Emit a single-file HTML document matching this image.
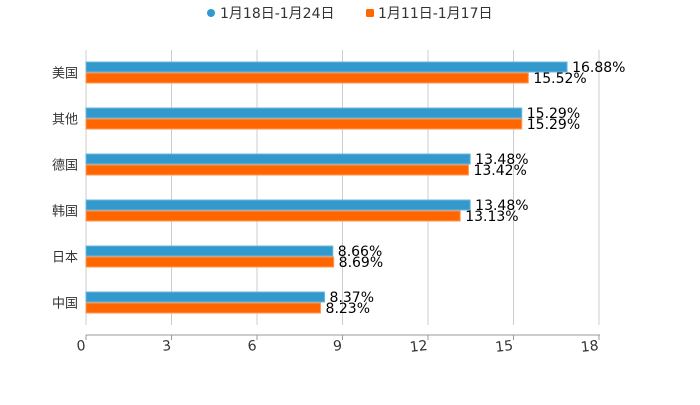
<!DOCTYPE html>
<html><head><meta charset="utf-8"><style>
body{margin:0;background:#fff;width:700px;height:400px;overflow:hidden}
svg text{font-family:"DejaVu Sans","Noto Sans CJK SC",sans-serif}
</style></head><body>
<svg id="chart" width="700" height="400">
<g>
<g><circle cx="211" cy="13" r="4" fill="#3399cc"/><text x="220" y="18" font-size="14" fill="#333">1月18日-1月24日</text></g>
<g><rect x="366" y="9" width="8" height="8" rx="1.5" fill="#ff6600"/><text x="378" y="18" font-size="14" fill="#333">1月11日-1月17日</text></g>
</g>
<g id="grid"></g><g id="bars"></g><g id="axis"></g>
</svg>
<script>
const categories=["美国","其他","德国","韩国","日本","中国"];
const seriesA=[16.88,15.29,13.48,13.48,8.66,8.37];
const seriesB=[15.52,15.29,13.42,13.13,8.69,8.23];
const ticks=[0,3,6,9,12,15,18];
const NS="http://www.w3.org/2000/svg";
const x0=86,x1=599,yTop=49.5,band=46;
const xs=v=>x0+(v/18)*(x1-x0);
const yc=i=>yTop+band*i+band/2;
function mk(t,a,p){const e=document.createElementNS(NS,t);for(const k in a)e.setAttribute(k,a[k]);p.appendChild(e);return e;}
const grid=document.getElementById('grid'),bars=document.getElementById('bars'),axis=document.getElementById('axis');
ticks.forEach(t=>{
 const g=mk('line',{x1:xs(t),x2:xs(t),y1:50,y2:325,stroke:'#ccc','stroke-width':1},grid);
 
 
 mk('line',{x1:xs(t),x2:xs(t),y1:335,y2:340,stroke:'#999'},axis);
 const l=mk('text',{x:xs(t),y:350,'font-size':14,fill:'#333','text-anchor':'end',transform:`rotate(-6 ${xs(t)} 350)`},axis);
 l.textContent=t;
 
 
});
const ax=mk('line',{x1:x0,x2:x1+1,y1:335,y2:335,stroke:'#999'},axis);


categories.forEach((c,i)=>{
 const y=yc(i);
 const cl=mk('text',{x:78,y:y+5,'font-size':13,fill:'#333','text-anchor':'end'},axis);
 cl.textContent=c;
 
 
 [[seriesA,'#3399cc','#6bb8de',-10.5],[seriesB,'#ff6600','#ff9a55',0.5]].forEach(([s,col,bd,off],k)=>{
  const v=s[i];
  const r=mk('rect',{x:x0,y:y+off,width:xs(v)-x0,height:10,fill:col,stroke:bd,'stroke-width':1},bars);
  
  
  const t=mk('text',{x:xs(v)+5,y:y+off+10,'font-size':14,fill:'#000'},bars);
  t.textContent=v.toFixed(2)+'%';
  
  
 });
});
</script>
</body></html>
